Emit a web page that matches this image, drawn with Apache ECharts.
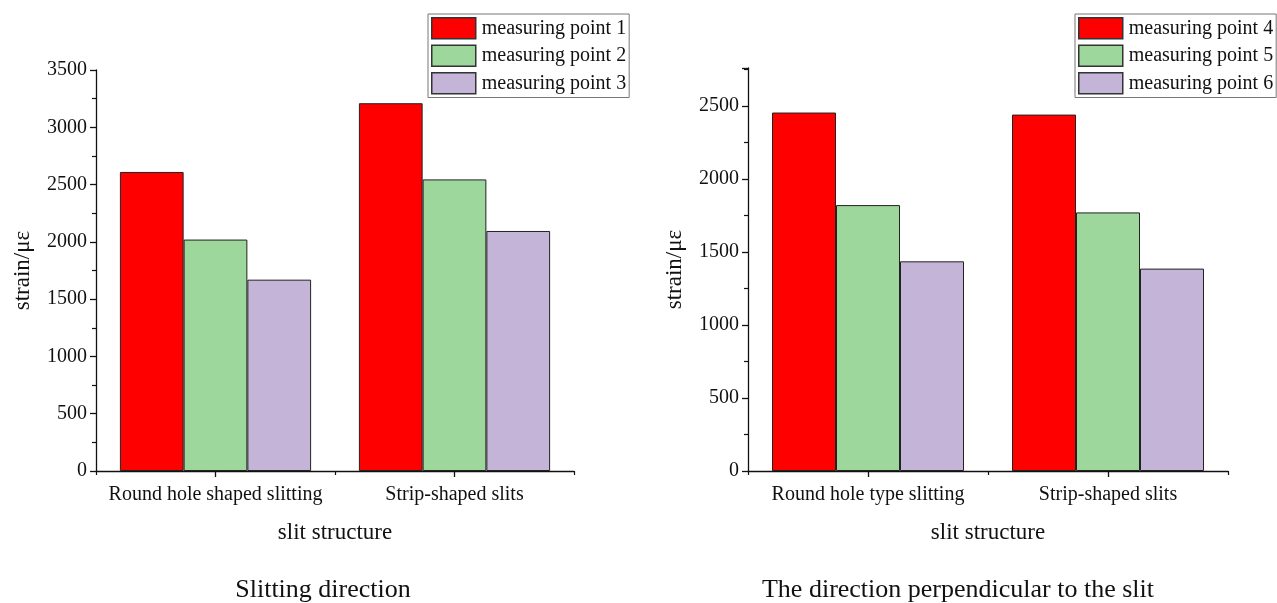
<!DOCTYPE html>
<html>
<head>
<meta charset="utf-8">
<script src="https://cdn.jsdelivr.net/npm/echarts@6/dist/echarts.min.js"></script>
<style>html,body{margin:0;padding:0;background:#fff}#c{width:1277px;height:603px}</style>
</head>
<body>
<div id="c"></div>
<script>
var categoriesLeft = ['Round hole shaped slitting', 'Strip-shaped slits'];
var categoriesRight = ['Round hole type slitting', 'Strip-shaped slits'];
var point1 = [2610, 3210];
var point2 = [2020, 2545];
var point3 = [1670, 2095];
var point4 = [2455, 2441];
var point5 = [1821, 1771];
var point6 = [1436, 1386];
var namesLeft = ['measuring point 1', 'measuring point 2', 'measuring point 3'];
var namesRight = ['measuring point 4', 'measuring point 5', 'measuring point 6'];
var colors = ['#ff0000', '#9dd79b', '#c4b5d8'];

var FONT = '"Liberation Serif", "Times New Roman", serif';
var chart = echarts.init(document.getElementById('c'), null, {renderer: 'canvas'});

function yAxis(idx, max) {
  return {
    type: 'value', gridIndex: idx, min: 0, max: max, interval: 500,
    name: 'strain/με', nameLocation: 'middle', nameGap: 62,
    nameTextStyle: {fontFamily: FONT, fontSize: 23, color: '#111'},
    axisLine: {show: true, lineStyle: {color: '#111', width: 1.3}},
    axisTick: {show: true, length: 6, lineStyle: {color: '#111', width: 1.3}},
    minorTick: {show: true, splitNumber: 2, length: 4, lineStyle: {color: '#111', width: 1.2}},
    splitLine: {show: false},
    axisLabel: {fontFamily: FONT, fontSize: 20, color: '#111', margin: 9,
      formatter: function (v) { return v % 500 === 0 ? String(v) : ''; }}
  };
}
function xAxis(idx, cats) {
  return {
    type: 'category', gridIndex: idx, data: cats,
    name: 'slit structure', nameLocation: 'middle', nameGap: 50,
    nameTextStyle: {fontFamily: FONT, fontSize: 23, color: '#111'},
    axisLine: {show: true, lineStyle: {color: '#111', width: 1.3}},
    axisTick: {show: true, alignWithLabel: true, length: 6, lineStyle: {color: '#111', width: 1.3}},
    axisLabel: {fontFamily: FONT, fontSize: 20, color: '#111', margin: 14, interval: 0, hideOverlap: false},
    splitLine: {show: false}
  };
}
function xAxisBoundary(idx, cats) {
  return {
    type: 'category', gridIndex: idx, data: cats, position: 'bottom',
    axisLine: {show: false},
    axisTick: {show: true, length: 4, lineStyle: {color: '#111', width: 1.2}},
    axisLabel: {show: false}, splitLine: {show: false}
  };
}
function series(name, data, color, xi, yi) {
  return {
    type: 'bar', name: name, data: data, xAxisIndex: xi, yAxisIndex: yi,
    barGap: 0, barCategoryGap: '20%',
    itemStyle: {color: color, borderColor: '#222', borderWidth: 1},
    emphasis: {disabled: true}
  };
}
function legend(left, names) {
  return {
    data: names, orient: 'vertical', left: left, top: 14,
    icon: 'rect',
    itemWidth: 44, itemHeight: 21, itemGap: 5,
    padding: [3, 3, 3, 3],
    borderColor: '#777', borderWidth: 1,
    itemStyle: {borderColor: '#333', borderWidth: 1.5},
    textStyle: {fontFamily: FONT, fontSize: 20, color: '#111', padding: [0, 0, 0, 1]},
    selectedMode: false
  };
}

var option = {
  animation: false,
  backgroundColor: '#fff',
  grid: [
    {left: 96, top: 70, width: 478, height: 401},
    {left: 748, top: 68, width: 480, height: 403}
  ],
  legend: [legend(428, namesLeft), legend(1075, namesRight)],
  xAxis: [xAxis(0, categoriesLeft), xAxis(1, categoriesRight), xAxisBoundary(0, categoriesLeft), xAxisBoundary(1, categoriesRight)],
  yAxis: [yAxis(0, 3500), yAxis(1, 2760)],
  series: [
    series(namesLeft[0], point1, colors[0], 0, 0),
    series(namesLeft[1], point2, colors[1], 0, 0),
    series(namesLeft[2], point3, colors[2], 0, 0),
    series(namesRight[0], point4, colors[0], 1, 1),
    series(namesRight[1], point5, colors[1], 1, 1),
    series(namesRight[2], point6, colors[2], 1, 1)
  ],
  graphic: [
    {type: 'text', x: 323, y: 590, silent: true,
      style: {text: 'Slitting direction', fontFamily: FONT, fontSize: 26, fill: '#111', textAlign: 'center', textVerticalAlign: 'middle'}},
    {type: 'text', x: 958, y: 590, silent: true,
      style: {text: 'The direction perpendicular to the slit', fontFamily: FONT, fontSize: 26, fill: '#111', textAlign: 'center', textVerticalAlign: 'middle'}}
  ]
};
chart.setOption(option);
</script>
</body>
</html>
